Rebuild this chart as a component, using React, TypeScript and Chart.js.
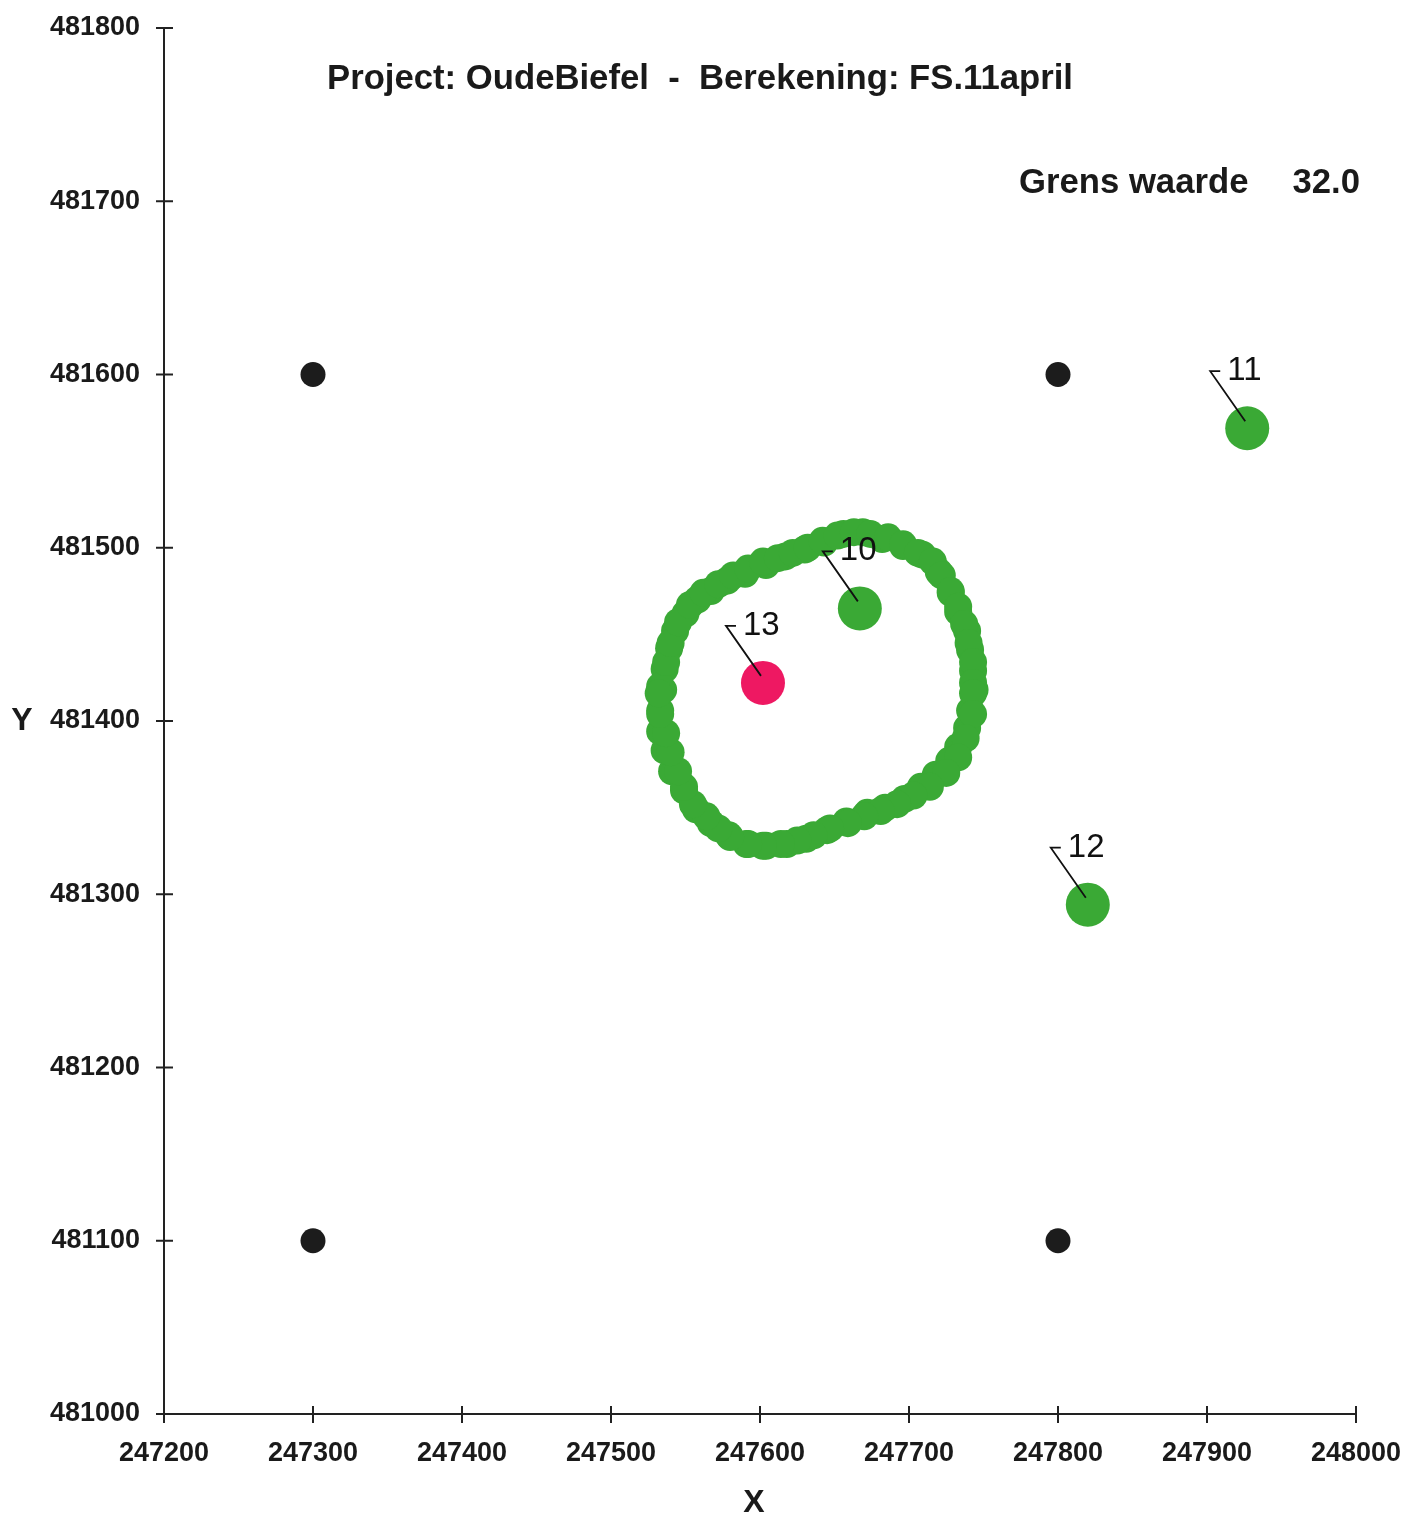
import React, { useEffect, useRef } from 'react';
import { Chart, registerables } from 'chart.js';

Chart.register(...registerables);

const xTicks = [247200, 247300, 247400, 247500, 247600, 247700, 247800, 247900, 248000];
const yTicks = [481000, 481100, 481200, 481300, 481400, 481500, 481600, 481700, 481800];

const gridPointX = [247300, 247800, 247300, 247800];
const gridPointY = [481600, 481600, 481100, 481100];

const contourX = [
  247656, 247669, 247682, 247696, 247709, 247720, 247728, 247733, 247739, 247741, 247743, 247744,
  247741, 247739, 247733, 247727, 247718, 247708, 247697, 247684, 247672, 247658, 247645, 247631,
  247618, 247604, 247591, 247579, 247567, 247557, 247549, 247541, 247536, 247533, 247533, 247535,
  247536, 247539, 247543, 247550, 247558, 247567, 247578, 247590, 247604, 247617, 247630, 247643,
  247533, 247537, 247540, 247545, 247553, 247562, 247572, 247582, 247592, 247602, 247612, 247622,
  247632, 247642, 247652, 247663, 247674, 247686, 247696, 247706, 247716, 247722, 247728, 247733,
  247737, 247740, 247743, 247743, 247743, 247743, 247738, 247733, 247725, 247714, 247703, 247692,
  247681, 247670, 247659, 247647, 247636, 247625, 247614, 247602, 247592, 247580, 247572, 247564,
  247555, 247549, 247545, 247540, 247537, 247533, 247532,
];
const contourY = [
  481508, 481509, 481505, 481501, 481496, 481486, 481474, 481463, 481452, 481441, 481429, 481418,
  481406, 481396, 481385, 481377, 481369, 481362, 481355, 481350, 481347, 481342, 481337, 481332,
  481329, 481328, 481329, 481334, 481341, 481349, 481360, 481371, 481383, 481394, 481406, 481418,
  481430, 481442, 481452, 481462, 481470, 481475, 481481, 481485, 481490, 481495, 481499, 481503,
  481420, 481434, 481445, 481457, 481467, 481474, 481479, 481484, 481488, 481492, 481494, 481497,
  481500, 481504, 481507, 481509, 481508, 481506, 481502, 481497, 481492, 481484, 481475, 481466,
  481456, 481445, 481434, 481422, 481416, 481404, 481390, 481379, 481370, 481362, 481357, 481352,
  481348, 481345, 481341, 481338, 481334, 481331, 481329, 481328, 481329, 481333, 481338, 481345,
  481352, 481362, 481371, 481382, 481393, 481404, 481416,
];

const okIds = ['10', '11', '12'];
const okX = [247667, 247927, 247820];
const okY = [481465, 481569, 481294];

const exceedIds = ['13'];
const exceedX = [247602];
const exceedY = [481422];

const titleText = 'Project: OudeBiefel  -  Berekening: FS.11april';
const limitLabel = 'Grens waarde';
const limitValue = '32.0';
const xAxisTitle = 'X';
const yAxisTitle = 'Y';

const GREEN = '#3aa935';
const RED = '#ee1862';
const BLACK = '#1c1c1c';

const toPoints = (xs: number[], ys: number[]) => xs.map((x, i) => ({ x, y: ys[i] }));

const overlayPlugin = {
  id: 'overlay',
  afterDraw(chart: any) {
    const ctx = chart.ctx;
    const xs = chart.scales.x;
    const ys = chart.scales.y;
    const area = chart.chartArea;
    ctx.save();
    // tick marks crossing the axes
    ctx.strokeStyle = '#222';
    ctx.lineWidth = 2;
    xTicks.forEach((v) => {
      const px = xs.getPixelForValue(v);
      ctx.beginPath();
      ctx.moveTo(px, area.bottom - 8);
      ctx.lineTo(px, area.bottom + 9);
      ctx.stroke();
    });
    yTicks.forEach((v) => {
      const py = ys.getPixelForValue(v);
      ctx.beginPath();
      ctx.moveTo(area.left - 8, py);
      ctx.lineTo(area.left + 9, py);
      ctx.stroke();
    });
    // axis lines
    ctx.beginPath();
    ctx.moveTo(area.left, area.top);
    ctx.lineTo(area.left, area.bottom);
    ctx.lineTo(area.right, area.bottom);
    ctx.stroke();

    // point labels with leader lines
    const ids = [...okIds, ...exceedIds];
    const lx = [...okX, ...exceedX];
    const ly = [...okY, ...exceedY];
    ctx.font = '33px "Liberation Sans", Arial, sans-serif';
    ctx.fillStyle = '#111';
    ctx.textBaseline = 'middle';
    ctx.textAlign = 'left';
    ctx.lineWidth = 1.8;
    ctx.strokeStyle = '#111';
    ids.forEach((id, i) => {
      const px = xs.getPixelForValue(lx[i]);
      const py = ys.getPixelForValue(ly[i]);
      ctx.beginPath();
      ctx.moveTo(px - 2, py - 7);
      ctx.lineTo(px - 37, py - 57);
      ctx.lineTo(px - 27, py - 57);
      ctx.stroke();
      ctx.fillText(id, px - 20, py - 57);
    });

    // titles
    ctx.font = 'bold 34.7px "Liberation Sans", Arial, sans-serif';
    ctx.fillStyle = '#1a1a1a';
    ctx.textAlign = 'left';
    ctx.fillText(titleText, 327, 79);
    ctx.fillText(limitLabel, 1019, 183);
    ctx.textAlign = 'right';
    ctx.fillText(limitValue, 1360, 183);

    ctx.font = 'bold 32px "Liberation Sans", Arial, sans-serif';
    ctx.textAlign = 'center';
    ctx.fillText(yAxisTitle, 22, 721);
    ctx.fillText(xAxisTitle, (area.left + area.right) / 2 - 6, 1503);
    ctx.restore();
  },
};

export default function App() {
  const ref = useRef<HTMLCanvasElement | null>(null);
  useEffect(() => {
    document.body.style.margin = '0';
    const canvas = ref.current;
    if (!canvas) return;
    const tickFont = { family: '"Liberation Sans", Arial, sans-serif', size: 27, weight: 'bold' as const };
    const zeroPad = (s: any) => {
      s.paddingLeft = 0;
      s.paddingRight = 0;
      s.paddingTop = 0;
      s.paddingBottom = 0;
    };
    const chart = new Chart(canvas, {
      type: 'scatter',
      data: {
        datasets: [
          {
            label: 'contour',
            data: toPoints(contourX, contourY),
            backgroundColor: GREEN,
            borderWidth: 0,
            pointRadius: 14,
          },
          {
            label: 'grid',
            data: toPoints(gridPointX, gridPointY),
            backgroundColor: BLACK,
            borderWidth: 0,
            pointRadius: 12.5,
          },
          {
            label: 'ok',
            data: toPoints(okX, okY),
            backgroundColor: GREEN,
            borderWidth: 0,
            pointRadius: 22,
          },
          {
            label: 'exceed',
            data: toPoints(exceedX, exceedY),
            backgroundColor: RED,
            borderWidth: 0,
            pointRadius: 22,
          },
        ],
      },
      options: {
        animation: false,
        responsive: false,
        devicePixelRatio: 1,
        layout: { padding: { top: 28, right: 48, left: 0, bottom: 0 } },
        plugins: { legend: { display: false }, tooltip: { enabled: false } },
        scales: {
          x: {
            type: 'linear',
            min: 247200,
            max: 248000,
            afterBuildTicks: (s: any) => {
              s.ticks = xTicks.map((v) => ({ value: v }));
            },
            afterFit: (s: any) => {
              s.height = 106;
              zeroPad(s);
            },
            grid: { display: false, drawTicks: false },
            border: { display: false },
            ticks: {
              padding: 23,
              color: '#1a1a1a',
              font: tickFont,
              maxRotation: 0,
              autoSkip: false,
              callback: (v: any) => String(v),
            },
          },
          y: {
            type: 'linear',
            min: 481000,
            max: 481800,
            afterBuildTicks: (s: any) => {
              s.ticks = yTicks.map((v) => ({ value: v }));
            },
            afterFit: (s: any) => {
              s.width = 164;
              zeroPad(s);
            },
            grid: { display: false, drawTicks: false },
            border: { display: false },
            ticks: {
              padding: 24,
              color: '#1a1a1a',
              font: tickFont,
              autoSkip: false,
              callback: (v: any) => String(v),
            },
          },
        },
      },
      plugins: [overlayPlugin],
    });
    return () => chart.destroy();
  }, []);
  return (
    <div style={{ position: 'absolute', left: 0, top: 0, width: 1404, height: 1520, background: '#fff' }}>
      <canvas ref={ref} width={1404} height={1520} style={{ width: 1404, height: 1520 }} />
    </div>
  );
}
